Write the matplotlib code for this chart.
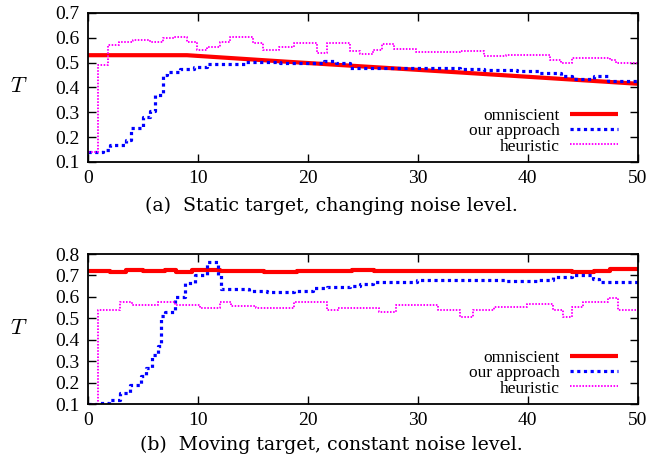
import numpy as np
import matplotlib
matplotlib.use('Agg')
import matplotlib.pyplot as plt

plt.rcParams['font.family'] = ['Liberation Serif', 'DejaVu Serif']
plt.rcParams['mathtext.fontset'] = 'cm'

# (a) static target, changing noise level  -- step starts and values
a_omni_x = [0, 9, 18, 34, 50]
a_omni_y = [0.53, 0.53, 0.504, 0.46, 0.415]

a_ours_x = [0, 0.94, 1.4, 2.0, 3.5, 3.9, 5.0, 5.6, 6.1, 6.8, 7.2, 8.4, 9.6, 10.8, 14.4,
            17.5, 21.5, 22.6, 23.8, 27.0, 33.8, 36.0, 39.0, 41.0, 43.0, 44.0, 46.0, 47.3, 50]
a_ours_y = [0.142, 0.142, 0.148, 0.169, 0.189, 0.237, 0.283, 0.305, 0.37, 0.45, 0.464, 0.475,
            0.484, 0.494, 0.502, 0.50, 0.505, 0.50, 0.48, 0.478, 0.475, 0.47, 0.465, 0.458,
            0.445, 0.435, 0.445, 0.427, 0.427]

a_heur_x = [0, 0.94, 1.85, 2.8, 4.1, 5.6, 6.8, 7.8, 9.0, 9.9, 10.8, 12.0, 12.9, 15.0, 15.9,
            17.4, 18.7, 20.8, 21.7, 23.8, 24.7, 25.9, 26.7, 27.8, 29.8, 33.8, 36.0, 38.0,
            42.0, 43.0, 44.0, 47.5, 48.0, 50]
a_heur_y = [0.142, 0.49, 0.572, 0.585, 0.59, 0.585, 0.60, 0.605, 0.585, 0.552, 0.565, 0.585,
            0.605, 0.58, 0.552, 0.565, 0.58, 0.538, 0.58, 0.545, 0.535, 0.55, 0.577, 0.555,
            0.542, 0.545, 0.527, 0.53, 0.51, 0.50, 0.518, 0.51, 0.50, 0.50]

# (b) moving target, constant noise level
b_omni_x = [0, 2, 3.5, 5, 7, 8, 9.5, 12, 14, 16, 19, 21, 24, 26, 29, 33, 36, 39, 42, 44, 46, 47.5, 50]
b_omni_y = [0.722, 0.718, 0.724, 0.72, 0.724, 0.716, 0.726, 0.72, 0.722, 0.718, 0.722, 0.72,
            0.726, 0.72, 0.722, 0.72, 0.722, 0.72, 0.722, 0.716, 0.722, 0.728, 0.722]

b_ours_x = [0, 0.8, 1.9, 2.9, 3.8, 4.8, 5.3, 5.8, 6.4, 6.6, 7.0, 7.9, 8.8, 9.7, 10.8, 11.8,
            12.1, 14.6, 16.3, 18.7, 20.5, 21.7, 23.8, 24.7, 25.9, 28.7, 29.9, 38.0, 41.0,
            42.3, 44.0, 45.9, 46.5, 50]
b_ours_y = [0.1, 0.105, 0.119, 0.15, 0.19, 0.23, 0.27, 0.33, 0.37, 0.51, 0.53, 0.60, 0.665,
            0.70, 0.764, 0.70, 0.635, 0.628, 0.622, 0.627, 0.64, 0.647, 0.652, 0.66, 0.67,
            0.668, 0.678, 0.675, 0.68, 0.694, 0.70, 0.685, 0.668, 0.668]

b_heur_x = [0, 0.94, 2.9, 4.0, 6.4, 7.9, 10.2, 12.0, 13.0, 15.3, 18.7, 21.7, 22.7, 26.5,
            28.0, 31.8, 33.8, 35.0, 36.9, 39.9, 42.3, 43.2, 44.0, 45.0, 47.3, 48.2, 50]
b_heur_y = [0.1, 0.539, 0.577, 0.562, 0.577, 0.562, 0.55, 0.577, 0.556, 0.55, 0.577, 0.539,
            0.55, 0.531, 0.562, 0.54, 0.507, 0.539, 0.554, 0.566, 0.539, 0.505, 0.554, 0.577,
            0.594, 0.54, 0.54]

labels = ['omniscient', 'our approach', 'heuristic']
captions = ['(a)  Static target, changing noise level.',
            '(b)  Moving target, constant noise level.']

fig = plt.figure(figsize=(6.49, 4.62), dpi=100)
ax_a = fig.add_axes([0.1356, 0.6494, 0.847, 0.3225])
ax_b = fig.add_axes([0.1356, 0.1255, 0.847, 0.3247])


def draw(ax, omni, ours, heur, ylim, caption, omni_steps, cap_y):
    ax.plot(*omni, color='#ff0000', lw=3.0, label=labels[0], solid_capstyle='butt',
            drawstyle='steps-post' if omni_steps else 'default')
    ax.plot(*ours, color='#0000ff', lw=2.3, drawstyle='steps-post', label=labels[1],
            linestyle=(0, (1, 1.1)), dash_capstyle='butt')
    ax.plot(*heur, color='#ff00ff', lw=1.4, drawstyle='steps-post', label=labels[2],
            linestyle=(0, (0.8, 0.8)), dash_capstyle='butt')
    ax.set_xlim(0, 50)
    ax.set_ylim(*ylim)
    ax.set_xticks(np.arange(0, 51, 10))
    ax.set_yticks(np.round(np.arange(ylim[0], ylim[1] + 0.01, 0.1), 1))
    ax.tick_params(direction='in', top=True, right=True, length=6, width=1,
                   labelsize=14, pad=6)
    for s in ax.spines.values():
        s.set_linewidth(1.3)
    ax.set_ylabel('$T$', fontsize=16, rotation=0, va='center', ha='center')
    ax.yaxis.set_label_coords(-0.125, 0.5)
    leg = ax.legend(loc='lower right', bbox_to_anchor=(0.964, 0.05), markerfirst=False,
                    frameon=False, fontsize=12.5, handlelength=2.75, handletextpad=0.6,
                    labelspacing=-0.06, borderpad=0, borderaxespad=0)
    for col in leg._legend_handle_box.get_children():
        col.align = 'right'
    fig.text(0.51, cap_y, caption, ha='center', va='center',
             fontsize=13.6, family='DejaVu Serif')


draw(ax_a, (a_omni_x, a_omni_y), (a_ours_x, a_ours_y), (a_heur_x, a_heur_y), (0.1, 0.7),
     captions[0], False, 1 - 206 / 462)
draw(ax_b, (b_omni_x, b_omni_y), (b_ours_x, b_ours_y), (b_heur_x, b_heur_y), (0.1, 0.8),
     captions[1], True, 1 - 445 / 462)

fig.savefig('out.png', dpi=100)
